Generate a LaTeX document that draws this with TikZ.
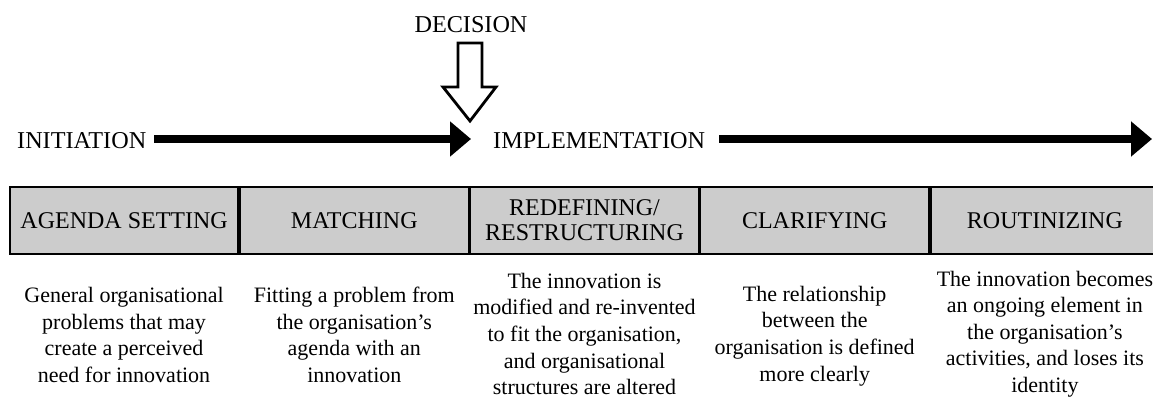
\documentclass[tikz,border=0pt]{standalone}
\usepackage{fontspec}
\setmainfont{Liberation Serif}
\usetikzlibrary{arrows.meta}
\definecolor{cellgray}{RGB}{204,204,204}
\tikzset{
  lbl/.style={font=\fontsize{24.2}{26}\selectfont, inner sep=4pt},
  cell/.style={draw=black, line width=1.8pt, fill=cellgray, minimum width=228.4pt,
    minimum height=67pt, anchor=west, inner sep=0pt, align=center,
    font=\fontsize{24}{25}\selectfont},
  desc/.style={font=\fontsize{22}{26.6}\selectfont, align=center, inner sep=0pt},
  phase/.style={line width=8pt, -{Triangle[length=21pt,width=34pt]}},
  hollow/.style={draw=black, line width=2.8pt, fill=white, line join=miter}
}
\begin{document}
\begin{tikzpicture}[x=1pt,y=-1pt]
\useasboundingbox (0,0) rectangle (1153,401);
% top labels and arrows
\node[lbl] (dec) at (471,25) {DECISION};
\node[lbl, anchor=west] (init) at (13,141) {INITIATION};
\node[lbl, anchor=west] (impl) at (489,141) {IMPLEMENTATION};
\coordinate (tip1) at (471,139);
\coordinate (tip2) at (1152,139);
\draw[phase] ([xshift=4pt]init.east |- tip1) -- (tip1);
\draw[phase] ([xshift=10pt]impl.east |- tip2) -- (tip2);
% hollow decision arrow
\draw[hollow] (458,43) -- (482,43) -- (482,87) -- (496,87) -- (470,121)
  -- (443,87) -- (458,87) -- cycle;
% cells
\node[cell] (c1) at (9,220.5) {AGENDA SETTING};
\node[cell] (c2) at (c1.east) {MATCHING};
\node[cell] (c3) at (c2.east) {REDEFINING/\\RESTRUCTURING};
\node[cell] (c4) at (c3.east) {CLARIFYING};
\node[cell] (c5) at (c4.east) {ROUTINIZING};
% descriptions
\node[desc] (d1) at (c1.center |- 0,335) {General organisational\\problems that may\\create a perceived\\need for innovation};
\node[desc] (d2) at (c2.center |- 0,335) {Fitting a problem from\\the organisation’s\\agenda with an\\innovation};
\node[desc] (d3) at (c3.center |- 0,334) {The innovation is\\modified and re-invented\\to fit the organisation,\\and organisational\\structures are altered};
\node[desc] (d4) at (c4.center |- 0,336) {The relationship\\between the\\organisation is defined\\more clearly};
\node[desc] (d5) at (c5.center |- 0,334) {The innovation becomes\\an ongoing element in\\the organisation’s\\activities, and loses its\\identity};
\end{tikzpicture}
\end{document}
